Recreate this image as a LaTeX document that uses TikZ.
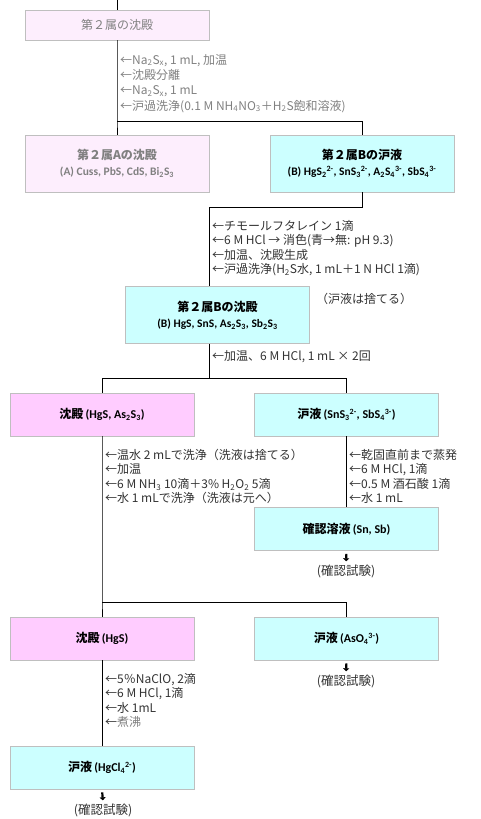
\documentclass[tikz,border=0pt]{standalone}
\usepackage{fontspec}
\setmainfont{Noto Sans CJK JP}
\newfontfamily\calfont{Carlito}
\usetikzlibrary{arrows.meta}
\definecolor{palepink}{RGB}{253,238,253}
\definecolor{pinkbox}{RGB}{255,204,255}
\definecolor{cyanbox}{RGB}{204,255,255}
\definecolor{boxline}{RGB}{191,191,191}
\definecolor{notegray}{RGB}{128,128,128}
\definecolor{notedark}{RGB}{50,50,50}
\newcommand{\bxtitle}{\fontsize{12}{14}\selectfont\bfseries}
\newcommand{\bxform}{\calfont\fontsize{11.5}{13}\selectfont\bfseries}
\newcommand{\bxformb}{\calfont\fontsize{12}{14}\selectfont\bfseries}
\tikzset{
  box/.style={draw=boxline, line width=0.8pt, minimum width=184pt, align=center, inner sep=0pt},
  tallbox/.style={box, minimum height=57pt},
  flatbox/.style={box, minimum height=43pt},
  note/.style={anchor=north west, align=left, inner sep=0pt, text=notedark, font=\fontsize{12}{14.5}\selectfont},
  testlbl/.style={inner sep=1pt, text=notedark, font=\fontsize{12.5}{14}\selectfont},
  link/.style={line width=0.8pt},
  dnarrow/.style={-{Triangle[length=3pt,width=6pt]}, line width=2.2pt, shorten <=3pt, shorten >=2pt},
}
\begin{document}
\begin{tikzpicture}[x=1pt,y=-1pt]
\useasboundingbox (0,0) rectangle (480,819);

\coordinate (top) at (117,0);
\node[box, minimum height=30pt, fill=palepink, text=notegray, font=\fontsize{12}{14}\selectfont] (grp2) at (117,25) {第２属の沈殿};
\node[note, text=notegray, font=\fontsize{12}{15.3}\selectfont] (note1) at (120,54) {←Na\textsubscript{2}S\textsubscript{x}, 1 mL, 加温\\←沈殿分離\\←Na\textsubscript{2}S\textsubscript{x}, 1 mL\\←沪過洗浄(0.1 M NH\textsubscript{4}NO\textsubscript{3}＋H\textsubscript{2}S飽和溶液)};
\coordinate (split1) at (117,121);

\node[tallbox, fill=palepink, text=notegray] (grpA) at (117,163.5) {{\bxtitle 第２属Aの沈殿}\\[4pt]{\bxform (A) Cuss, PbS, CdS, Bi\textsubscript{2}S\textsubscript{3}}};
\node[tallbox, fill=cyanbox] (grpB) at (362,163.5) {{\bxtitle 第２属Bの沪液}\\[4pt]{\bxform (B) HgS\textsubscript{2}\textsuperscript{2-}, SnS\textsubscript{3}\textsuperscript{2-}, A\textsubscript{2}S\textsubscript{4}\textsuperscript{3-}, SbS\textsubscript{4}\textsuperscript{3-}}};

\coordinate (bend1) at (209,207);
\node[note] (note2) at (212,220) {←チモールフタレイン 1滴\\←6 M HCl → 消色(青→無: pH 9.3)\\←加温、沈殿生成\\←沪過洗浄(H\textsubscript{2}S水, 1 mL＋1 N HCl 1滴)};
\node[tallbox, fill=cyanbox] (grpBppt) at (217.5,315) {{\bxtitle 第２属Bの沈殿}\\[4pt]{\bxform (B) HgS, SnS, As\textsubscript{2}S\textsubscript{3}, Sb\textsubscript{2}S\textsubscript{3}}};
\node[note, anchor=west] (discard) at (316,299) {（沪液は捨てる）};
\node[note, anchor=west] (note3) at (212,357) {←加温、6 M HCl, 1 mL × 2回};
\coordinate (split2) at (209,378);

\node[flatbox, fill=pinkbox] (ppt1) at (102,414.5) {{\bxtitle 沈殿} {\bxformb (HgS, As\textsubscript{2}S\textsubscript{3})}};
\node[flatbox, fill=cyanbox] (fil1) at (346.5,414.5) {{\bxtitle 沪液} {\bxformb (SnS\textsubscript{3}\textsuperscript{2-}, SbS\textsubscript{4}\textsuperscript{3-})}};
\node[note] (note4) at (105,449) {←温水 2 mLで洗浄（洗液は捨てる）\\←加温\\←6 M NH\textsubscript{3} 10滴＋3\% H\textsubscript{2}O\textsubscript{2} 5滴\\←水 1 mLで洗浄（洗液は元へ）};
\node[note] (note5) at (349,449) {←乾固直前まで蒸発\\←6 M HCl, 1滴\\←0.5 M 酒石酸 1滴\\←水 1 mL};
\node[flatbox, fill=cyanbox] (conf1) at (346.5,529) {{\bxtitle 確認溶液} {\bxformb (Sn, Sb)}};
\node[testlbl] (test1) at (346,571) {(確認試験)};
\coordinate (split3) at (102,602);

\node[flatbox, fill=pinkbox] (ppt2) at (102,638.5) {{\bxtitle 沈殿} {\bxformb (HgS)}};
\node[flatbox, fill=cyanbox] (fil2) at (346.5,638.5) {{\bxtitle 沪液} {\bxformb (AsO\textsubscript{4}\textsuperscript{3-})}};
\node[testlbl] (test2) at (346,681) {(確認試験)};
\node[note] (note6) at (105,673) {←5％NaClO, 2滴\\←6 M HCl, 1滴\\←水 1mL\\←{\color{notegray}煮沸}};
\node[flatbox, fill=cyanbox] (fil3) at (102,767.5) {{\bxtitle 沪液} {\bxformb (HgCl\textsubscript{4}\textsuperscript{2-})}};
\node[testlbl] (test3) at (103,810) {(確認試験)};

\draw[link] (top) -- (grp2.north);
\draw[link] (grp2.south) -- (split1) -- (grpA.north);
\draw[link] (split1) -| (grpB.north);
\draw[link] (grpB.south) |- (bend1) -- (bend1 |- grpBppt.north);
\draw[link] (grpBppt.south -| bend1) -- (split2);
\draw[link] (split2) -| (ppt1.north);
\draw[link] (split2) -| (fil1.north);
\draw[link] (ppt1.south) -- (split3) -- (ppt2.north);
\draw[link] (split3) -| (fil2.north);
\draw[link] (fil1.south) -- (conf1.north);
\draw[link] (ppt2.south) -- (fil3.north);
\draw[dnarrow] (conf1.south) -- (test1.north);
\draw[dnarrow] (fil2.south) -- (test2.north);
\draw[dnarrow] (fil3.south) -- (test3.north);
\end{tikzpicture}
\end{document}
